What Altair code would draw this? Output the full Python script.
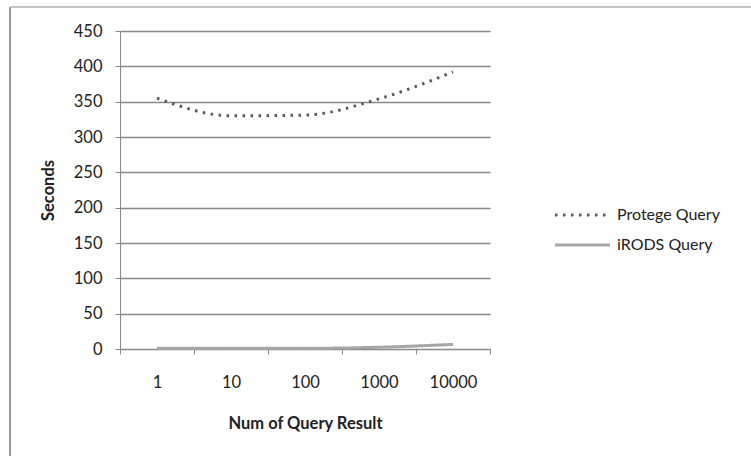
import altair as alt
import pandas as pd

categories = ["1", "10", "100", "1000", "10000"]
protege = [355, 330, 331, 354, 392]
irods = [1, 1, 1, 2.5, 6.5]
series_names = ["Protege Query", "iRODS Query"]

rows = []
for c, v in zip(categories, protege):
    rows.append({"cat": c, "val": v, "series": series_names[0]})
for c, v in zip(categories, irods):
    rows.append({"cat": c, "val": v, "series": series_names[1]})
df = pd.DataFrame(rows)
legend_df = pd.DataFrame({"series": series_names, "idx": list(range(len(series_names)))})

FONT = "Lato"
FS = 16.5

color_enc = alt.Color("series:N", sort=series_names,
                      scale=alt.Scale(domain=series_names, range=["#595959", "#a6a6a6"]),
                      legend=None)
dash_enc = alt.StrokeDash("series:N", sort=series_names,
                          scale=alt.Scale(domain=series_names, range=[[2.5, 5.5], [1, 0]]),
                          legend=None)

lines = alt.Chart(df).mark_line(interpolate="monotone", strokeWidth=3).encode(
    x=alt.X("cat:N", sort=categories,
            scale=alt.Scale(paddingInner=0, paddingOuter=0),
            axis=alt.Axis(title="Num of Query Result", labelAngle=0, tickBand="extent",
                          tickSize=5, labelPadding=20, titlePadding=25,
                          domainColor="#888888", tickColor="#888888", grid=False)),
    y=alt.Y("val:Q", scale=alt.Scale(domain=[0, 450]),
            axis=alt.Axis(title="Seconds", values=list(range(0, 451, 50)),
                          tickSize=5, labelPadding=13, titlePadding=17,
                          domainColor="#888888", tickColor="#888888",
                          gridColor="#888888", gridWidth=1.3)),
    color=color_enc,
    strokeDash=dash_enc,
)

leg_y = alt.Y("idx:Q", scale=alt.Scale(domain=[0, 1], range=[184, 214]), axis=None)

legend_lines = alt.Chart(legend_df).mark_rule(strokeWidth=3).encode(
    x=alt.value(435), x2=alt.value(490), y=leg_y, color=color_enc, strokeDash=dash_enc
)
legend_text = alt.Chart(legend_df).mark_text(
    align="left", baseline="middle", font=FONT, fontSize=16, color="#222222"
).encode(
    x=alt.value(497), y=leg_y, text="series:N"
)

border = alt.Chart(pd.DataFrame({"k": [0]})).mark_rule(color="#9a9a9a", strokeWidth=2).encode(
    x=alt.value(-110), y=alt.value(-24), y2=alt.value(430)
)
border_top = alt.Chart(pd.DataFrame({"k": [0]})).mark_rule(color="#b0b0b0", strokeWidth=1.5).encode(
    x=alt.value(-110), x2=alt.value(631), y=alt.value(-24)
)

chart = alt.layer(border, border_top, lines, legend_lines, legend_text).resolve_scale(
    y="independent"
).properties(
    width=370, height=318,
    background="white",
    autosize=alt.AutoSizeParams(type="none"),
    padding={"left": 120, "top": 31, "right": 261, "bottom": 107},
).configure_view(stroke=None).configure_axis(
    labelFont=FONT, titleFont=FONT, labelFontSize=FS, titleFontSize=FS,
    labelColor="#222222", titleColor="#222222", titleFontWeight="bold",
    labelFontWeight="normal"
)

chart.save("out.html", embed_options={"renderer": "svg", "actions": False})
